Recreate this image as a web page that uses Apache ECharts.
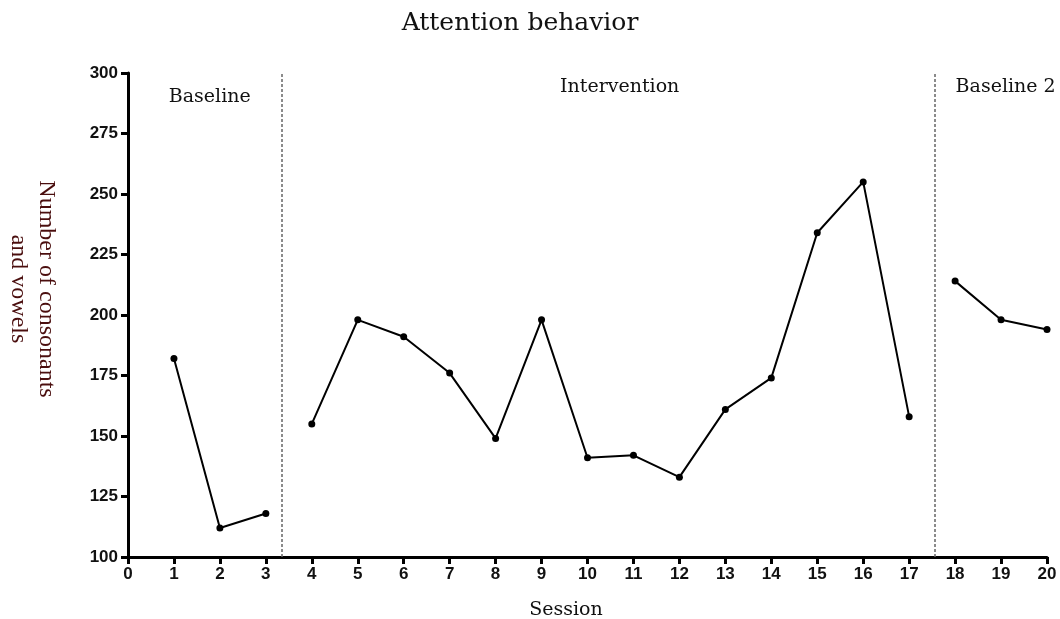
<!DOCTYPE html>
<html>
<head>
<meta charset="utf-8">
<script src="https://cdn.jsdelivr.net/npm/echarts@6/dist/echarts.min.js"></script>
<style>
html,body{margin:0;padding:0;background:#fff;overflow:hidden;}
#chart{width:1060px;height:619px;}
</style>
</head>
<body>
<div id="chart"></div>
<script>
// ---- data ----
const baselineSessions = [1, 2, 3];
const baselineValues = [182, 112, 118];
const interventionSessions = [4, 5, 6, 7, 8, 9, 10, 11, 12, 13, 14, 15, 16, 17];
const interventionValues = [155, 198, 191, 176, 149, 198, 141, 142, 133, 161, 174, 234, 255, 158];
const baseline2Sessions = [18, 19, 20];
const baseline2Values = [214, 198, 194];
const phaseDividers = [3.35, 17.55];
const phaseNames = ['Baseline', 'Intervention', 'Baseline 2'];
const phaseLabelX = [1.78, 10.7, 19.1];
const phaseLabelY = [290, 294, 294];
const titleText = 'Attention behavior';
const xName = 'Session';
const yName = 'Number of consonants\nand vowels';

function pairs(xs, ys) { return xs.map((x, i) => [x, ys[i]]); }

const chart = echarts.init(document.getElementById('chart'));

const lineStyle = { color: '#000', width: 2 };
const itemStyle = { color: '#000' };

function phaseSeries(name, xs, ys) {
  return {
    name: name, type: 'line', data: pairs(xs, ys),
    symbol: 'circle', symbolSize: 7,
    lineStyle: lineStyle, itemStyle: itemStyle,
    animation: false, z: 5
  };
}

const series = [
  phaseSeries(phaseNames[0], baselineSessions, baselineValues),
  phaseSeries(phaseNames[1], interventionSessions, interventionValues),
  phaseSeries(phaseNames[2], baseline2Sessions, baseline2Values),
  {
    type: 'scatter', data: [], silent: true, animation: false,
    markLine: {
      symbol: ['none', 'none'], silent: true, animation: false,
      label: { show: false },
      lineStyle: { color: '#666', type: [3, 2], width: 1.5 },
      data: phaseDividers.map(v => ({ xAxis: v }))
    },
    markPoint: {
      symbol: 'circle', symbolSize: 0, silent: true, animation: false,
      label: {
        show: true, position: 'inside', color: '#111',
        fontFamily: 'DejaVu Serif', fontSize: 19,
        formatter: p => p.name
      },
      data: phaseNames.map((n, i) => ({ name: n, coord: [phaseLabelX[i], phaseLabelY[i]] }))
    }
  }
];

chart.setOption({
  backgroundColor: '#fff',
  animation: false,
  grid: { left: 128, right: 13, top: 73, bottom: 62, containLabel: false },
  xAxis: {
    type: 'value', min: 0, max: 20, interval: 1,
    axisLine: { show: true, onZero: false, lineStyle: { color: '#000', width: 3 } },
    axisTick: { show: true, length: 7, lineStyle: { color: '#000', width: 3 } },
    axisLabel: { margin: 9, fontFamily: 'Liberation Sans', fontWeight: 'bold', fontSize: 17, color: '#111' },
    splitLine: { show: false }
  },
  yAxis: {
    type: 'value', min: 100, max: 300, interval: 25,
    axisLine: { show: true, onZero: false, lineStyle: { color: '#000', width: 3 } },
    axisTick: { show: true, length: 7, lineStyle: { color: '#000', width: 3 } },
    axisLabel: { margin: 10, fontFamily: 'Liberation Sans', fontWeight: 'bold', fontSize: 17, color: '#111' },
    splitLine: { show: false }
  },
  graphic: [{
    type: 'text', x: 520, y: 23,
    style: {
      text: titleText, fill: '#111', fontFamily: 'DejaVu Serif', fontSize: 25,
      align: 'center', verticalAlign: 'middle'
    }
  }, {
    type: 'text', x: 32, y: 289, rotation: -Math.PI / 2,
    style: {
      text: yName, fill: '#4a0e0e', fontFamily: 'Liberation Serif', fontSize: 24,
      lineHeight: 28, align: 'center', verticalAlign: 'middle'
    }
  }, {
    type: 'text', x: 566, y: 610,
    style: {
      text: xName, fill: '#111', fontFamily: 'DejaVu Serif', fontSize: 19,
      align: 'center', verticalAlign: 'middle'
    }
  }],
  series: series
});
</script>
</body>
</html>
